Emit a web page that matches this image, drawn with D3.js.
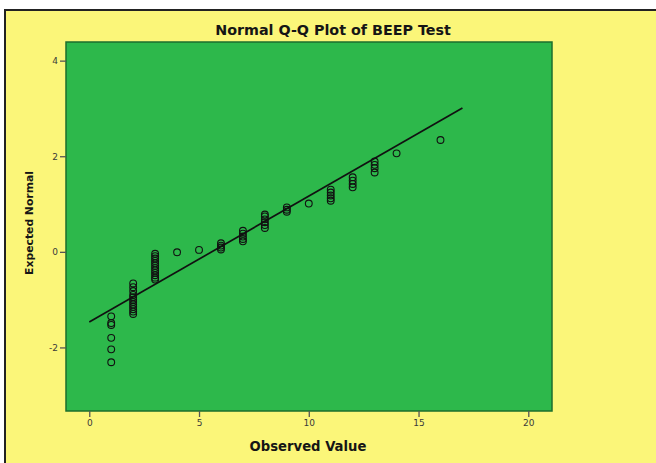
<!DOCTYPE html>
<html>
<head>
<meta charset="utf-8">
<script src="https://cdn.jsdelivr.net/npm/d3@7"></script>
<style>
  html, body { margin: 0; padding: 0; background: #ffffff; }
  svg { display: block; }
</style>
</head>
<body>
<svg id="chart" width="656" height="463"></svg>
<script>
// Observed BEEP test levels and their expected normal scores
const observed = [
  1, 1, 1, 1, 1, 1,
  2, 2, 2, 2, 2, 2, 2, 2, 2, 2, 2, 2,
  3, 3, 3, 3, 3, 3, 3, 3, 3, 3, 3, 3,
  4, 5,
  6, 6, 6, 6,
  7, 7, 7, 7, 7,
  8, 8, 8, 8, 8, 8,
  9, 9, 9,
  10,
  11, 11, 11, 11, 11,
  12, 12, 12, 12,
  13, 13, 13, 13,
  14, 16
];
const expected = [
  -2.31, -2.04, -1.80, -1.53, -1.49, -1.35,
  -1.30, -1.25, -1.20, -1.15, -1.10, -1.05, -1.00, -0.95, -0.90, -0.82, -0.74, -0.66,
  -0.58, -0.54, -0.49, -0.44, -0.39, -0.34, -0.29, -0.24, -0.19, -0.14, -0.09, -0.04,
  -0.01, 0.04,
  0.05, 0.09, 0.13, 0.18,
  0.22, 0.27, 0.32, 0.38, 0.44,
  0.50, 0.56, 0.62, 0.68, 0.74, 0.78,
  0.84, 0.88, 0.93,
  1.01,
  1.07, 1.12, 1.18, 1.24, 1.30,
  1.35, 1.42, 1.49, 1.56,
  1.66, 1.75, 1.82, 1.89,
  2.06, 2.34
];

// Reference line end points (observed value, expected normal)
const lineX = [0, 17];
const lineY = [-1.47, 3.01];

const xTicks = [0, 5, 10, 15, 20];
const yTicks = [-2, 0, 2, 4];

const titleText = "Normal Q-Q Plot of BEEP Test";
const xTitle = "Observed Value";
const yTitle = "Expected Normal";

const W = 656, H = 463;
const plot = { left: 66, right: 552, top: 42, bottom: 411 };
const font = "DejaVu Sans, Verdana, sans-serif";

const svg = d3.select("#chart");

// page frame: yellow panel with a dark rule at the top and left
svg.append("rect").attr("x", 5).attr("y", 10).attr("width", W - 5).attr("height", H - 10)
  .attr("fill", "#fbf679");
svg.append("line").attr("x1", 4).attr("x2", W).attr("y1", 10).attr("y2", 10)
  .attr("stroke", "#222").attr("stroke-width", 2);
svg.append("line").attr("x1", 5).attr("x2", 5).attr("y1", 10).attr("y2", H)
  .attr("stroke", "#222").attr("stroke-width", 2);

const x = d3.scaleLinear().domain([-1.06, 21.08]).range([plot.left, plot.right]);
const y = d3.scaleLinear().domain([-3.33, 4.39]).range([plot.bottom, plot.top]);

// plot area
svg.append("rect")
  .attr("x", plot.left).attr("y", plot.top)
  .attr("width", plot.right - plot.left).attr("height", plot.bottom - plot.top)
  .attr("fill", "#2db84b").attr("stroke", "#1d6e2d").attr("stroke-width", 1.5);

// axes (plain hyphen for negative labels)
const fmt = d => String(d);
const xAxis = svg.append("g")
  .attr("transform", `translate(0,${plot.bottom})`)
  .call(d3.axisBottom(x).tickValues(xTicks).tickSize(6).tickPadding(3).tickFormat(fmt));
const yAxis = svg.append("g")
  .attr("transform", `translate(${plot.left},0)`)
  .call(d3.axisLeft(y).tickValues(yTicks).tickSize(6).tickPadding(3).tickFormat(fmt));

[xAxis, yAxis].forEach(g => {
  g.select(".domain").remove();
  g.selectAll(".tick line").attr("stroke", "#555").attr("stroke-width", 1.3);
  g.selectAll(".tick text")
    .attr("fill", "#3a3a3a")
    .style("font-family", font)
    .style("font-size", "9px");
});
yAxis.selectAll(".tick text").attr("dx", 1);

// reference line
svg.append("line")
  .attr("x1", x(lineX[0])).attr("y1", y(lineY[0]))
  .attr("x2", x(lineX[1])).attr("y2", y(lineY[1]))
  .attr("stroke", "#111").attr("stroke-width", 1.7);

// observed points
svg.append("g").selectAll("circle")
  .data(observed.map((v, i) => [v, expected[i]]))
  .join("circle")
  .attr("cx", d => x(d[0]))
  .attr("cy", d => y(d[1]))
  .attr("r", 3.4)
  .attr("fill", "none")
  .attr("stroke", "#111")
  .attr("stroke-width", 1.1);

// titles
svg.append("text")
  .attr("x", 333).attr("y", 35)
  .attr("text-anchor", "middle")
  .style("font-family", font)
  .style("font-weight", "bold").style("font-size", "14.3px")
  .attr("fill", "#151515")
  .text(titleText);

svg.append("text")
  .attr("x", 308).attr("y", 451)
  .attr("text-anchor", "middle")
  .style("font-family", font)
  .style("font-weight", "bold").style("font-size", "13.2px")
  .attr("fill", "#151515")
  .text(xTitle);

svg.append("text")
  .attr("transform", "translate(33,223) rotate(-90)")
  .attr("text-anchor", "middle")
  .style("font-family", font)
  .style("font-weight", "bold").style("font-size", "10.8px")
  .attr("fill", "#151515")
  .text(yTitle);
</script>
</body>
</html>
